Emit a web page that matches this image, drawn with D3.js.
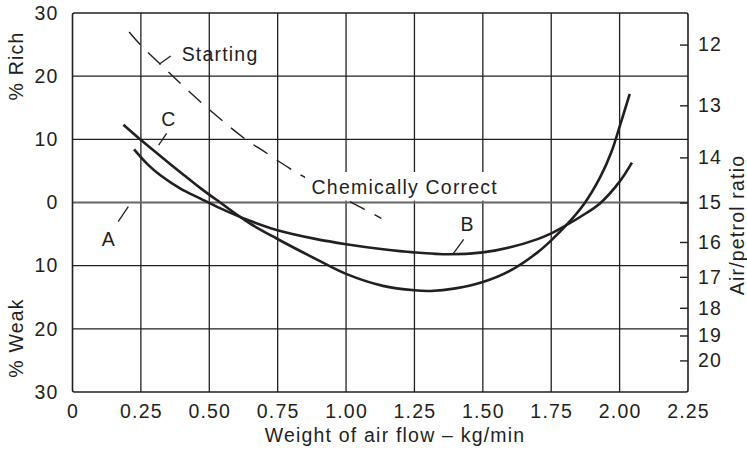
<!DOCTYPE html>
<html>
<head>
<meta charset="utf-8">
<script src="https://cdn.jsdelivr.net/npm/d3@7"></script>
<style>
  body { margin: 0; background: #fff; }
  svg text {
    font-family: "Liberation Sans", Arial, sans-serif;
    font-size: 19.5px;
    fill: #231f20;
    letter-spacing: 1.2px;
  }
</style>
</head>
<body>
<div id="chart"></div>
<script>
// axis ticks
const flowTicks = [0, 0.25, 0.5, 0.75, 1.0, 1.25, 1.5, 1.75, 2.0, 2.25]
const flowTickLabels = ['0', '0.25', '0.50', '0.75', '1.00', '1.25', '1.50', '1.75', '2.00', '2.25']
const mixtureTicks = [30, 20, 10, 0, -10, -20, -30]
const mixtureTickLabels = ['30', '20', '10', '0', '10', '20', '30']
const ratioTicks = [12, 13, 14, 15, 16, 17, 18, 19, 20]

// curve C (steeper, dips to about 14 % weak)
const curveCFlow = [0.186, 0.247, 0.32, 0.40, 0.47, 0.54, 0.648, 0.746, 0.892, 1.0, 1.135, 1.25, 1.31, 1.40, 1.50, 1.60, 1.70, 1.75, 1.805, 1.872, 1.93, 1.97, 2.0, 2.037]
const curveCMixture = [12.3, 10.0, 7.4, 4.6, 2.2, 0.0, -3.3, -5.7, -9.0, -11.3, -13.2, -13.9, -14.0, -13.6, -12.6, -10.8, -7.9, -6.0, -3.6, -0.1, 4.1, 8.0, 12.0, 17.2]

// curve B (flatter)
const curveBFlow = [0.225, 0.271, 0.32, 0.393, 0.466, 0.539, 0.648, 0.746, 0.892, 1.0, 1.135, 1.248, 1.379, 1.5, 1.6, 1.7, 1.75, 1.805, 1.87, 1.927, 2.0, 2.045]
const curveBMixture = [8.4, 6.2, 4.35, 2.25, 0.66, -0.9, -2.9, -4.35, -5.8, -6.6, -7.4, -7.9, -8.2, -7.9, -7.1, -5.8, -4.9, -3.6, -1.9, -0.2, 3.3, 6.3]

// starting (dashed)
const startingFlow = [0.207, 0.25, 0.338, 0.411, 0.508, 0.636, 0.696, 0.794, 0.849, 1.026, 1.129]
const startingMixture = [27.0, 24.9, 21.2, 18.2, 14.4, 9.9, 8.2, 5.4, 4.0, -0.13, -2.5]

// labels with leader lines, in data units
const labelNames = ['Starting', 'C', 'A', 'B']
const labelFlow = [0.399, 0.352, 0.133, 1.444]
const labelMixture = [22.4, 12.1, -6.9, -4.5]
const leaderFrom = [[0.317, 21.9], [0.344, 10.95], [0.204, -0.66], [1.430, -5.83]]
const leaderTo = [[0.359, 23.2], [0.315, 9.1], [0.167, -3.04], [1.391, -8.15]]

const width = 747
const height = 450
const ink = '#231f20'

const svg = d3.select('#chart')
  .append('svg')
  .attr('width', width)
  .attr('height', height)

const x = d3.scaleLinear().domain([0, 2.25]).range([72.5, 688])
const y = d3.scaleLinear().domain([-30, 30]).range([392, 13])
// air/petrol ratio axis: % mixture = (15 / ratio - 1) * 100, so linear in 1/ratio
const inverseRatio = d3.scaleLinear().domain([0.7 / 15, 1.3 / 15]).range([392, 13])

// grid
const grid = svg.append('g').attr('stroke', ink)
grid.selectAll('line.v')
  .data(flowTicks.slice(1, -1))
  .join('line')
  .attr('x1', d => x(d)).attr('x2', d => x(d))
  .attr('y1', y(30)).attr('y2', y(-30))
  .attr('stroke-width', 1.3)
grid.selectAll('line.h')
  .data(mixtureTicks.slice(1, -1))
  .join('line')
  .attr('x1', x(0)).attr('x2', x(2.25))
  .attr('y1', d => y(d)).attr('y2', d => y(d))
  .attr('stroke', d => d === 0 ? '#666' : ink)
  .attr('stroke-width', d => d === 0 ? 2 : 1.3)

// frame
svg.append('rect')
  .attr('x', x(0)).attr('y', y(30))
  .attr('width', x(2.25) - x(0)).attr('height', y(-30) - y(30))
  .attr('rx', 2)
  .attr('fill', 'none')
  .attr('stroke', ink)
  .attr('stroke-width', 1.6)

// x axis
svg.append('g')
  .attr('transform', `translate(0,${y(-30)})`)
  .call(d3.axisBottom(x).tickValues(flowTicks).tickSize(0).tickPadding(12)
    .tickFormat((d, i) => flowTickLabels[i]))
  .call(g => g.select('.domain').remove())
  .selectAll('text').attr('font-size', null).attr('font-family', null).attr('fill', null)

// left axis
svg.append('g')
  .attr('transform', `translate(${x(0)},0)`)
  .call(d3.axisLeft(y).tickValues(mixtureTicks).tickSize(0).tickPadding(14)
    .tickFormat((d, i) => mixtureTickLabels[i]))
  .call(g => g.select('.domain').remove())
  .selectAll('text').attr('font-size', null).attr('font-family', null).attr('fill', null)

// right axis (air/petrol ratio), ticks pointing inward
svg.append('g')
  .attr('transform', `translate(${x(2.25)},0)`)
  .call(d3.axisRight(inverseRatio).tickValues(ratioTicks.map(r => 1 / r)).tickSize(-8).tickPadding(10)
    .tickFormat(d => Math.round(1 / d)))
  .call(g => g.select('.domain').remove())
  .call(g => g.selectAll('line').attr('stroke', ink).attr('stroke-width', 1.4))
  .selectAll('text').attr('font-size', null).attr('font-family', null).attr('fill', null)

// lines
const line = d3.line()
  .x(d => x(d[0]))
  .y(d => y(d[1]))
  .curve(d3.curveCatmullRom.alpha(0.5))

svg.append('path')
  .datum(d3.zip(startingFlow, startingMixture))
  .attr('d', line)
  .attr('fill', 'none')
  .attr('stroke', ink)
  .attr('stroke-width', 1.4)
  .attr('stroke-dasharray', '17,11')

// "Chemically Correct" sits on a white box
svg.append('rect')
  .attr('x', x(0.85)).attr('y', y(4.83))
  .attr('width', x(1.561) - x(0.85)).attr('height', y(0.3) - y(4.83))
  .attr('fill', '#fff')
svg.append('text')
  .attr('x', x(0.874)).attr('y', y(1.3))
  .text('Chemically Correct')

for (const [flow, mixture] of [[curveCFlow, curveCMixture], [curveBFlow, curveBMixture]]) {
  svg.append('path')
    .datum(d3.zip(flow, mixture))
    .attr('d', line)
    .attr('fill', 'none')
    .attr('stroke', ink)
    .attr('stroke-width', 2.6)
}

// curve labels
svg.append('g')
  .selectAll('line')
  .data(d3.zip(leaderFrom, leaderTo))
  .join('line')
  .attr('x1', d => x(d[0][0])).attr('y1', d => y(d[0][1]))
  .attr('x2', d => x(d[1][0])).attr('y2', d => y(d[1][1]))
  .attr('stroke', ink)
  .attr('stroke-width', 1.3)

svg.append('g')
  .selectAll('text')
  .data(labelNames)
  .join('text')
  .attr('x', (d, i) => x(labelFlow[i]))
  .attr('y', (d, i) => y(labelMixture[i]))
  .attr('text-anchor', (d, i) => i === 0 ? 'start' : 'middle')
  .text(d => d)

// axis titles
svg.append('text')
  .attr('x', 395).attr('y', 442)
  .attr('text-anchor', 'middle')
  .text('Weight of air flow \u2013 kg/min')

svg.append('text')
  .attr('transform', 'translate(23,66) rotate(-90)')
  .attr('text-anchor', 'middle')
  .text('% Rich')

svg.append('text')
  .attr('transform', 'translate(23,338) rotate(-90)')
  .attr('text-anchor', 'middle')
  .text('% Weak')

svg.append('text')
  .attr('transform', 'translate(744,225) rotate(-90)')
  .attr('text-anchor', 'middle')
  .text('Air/petrol ratio')
</script>
</body>
</html>
